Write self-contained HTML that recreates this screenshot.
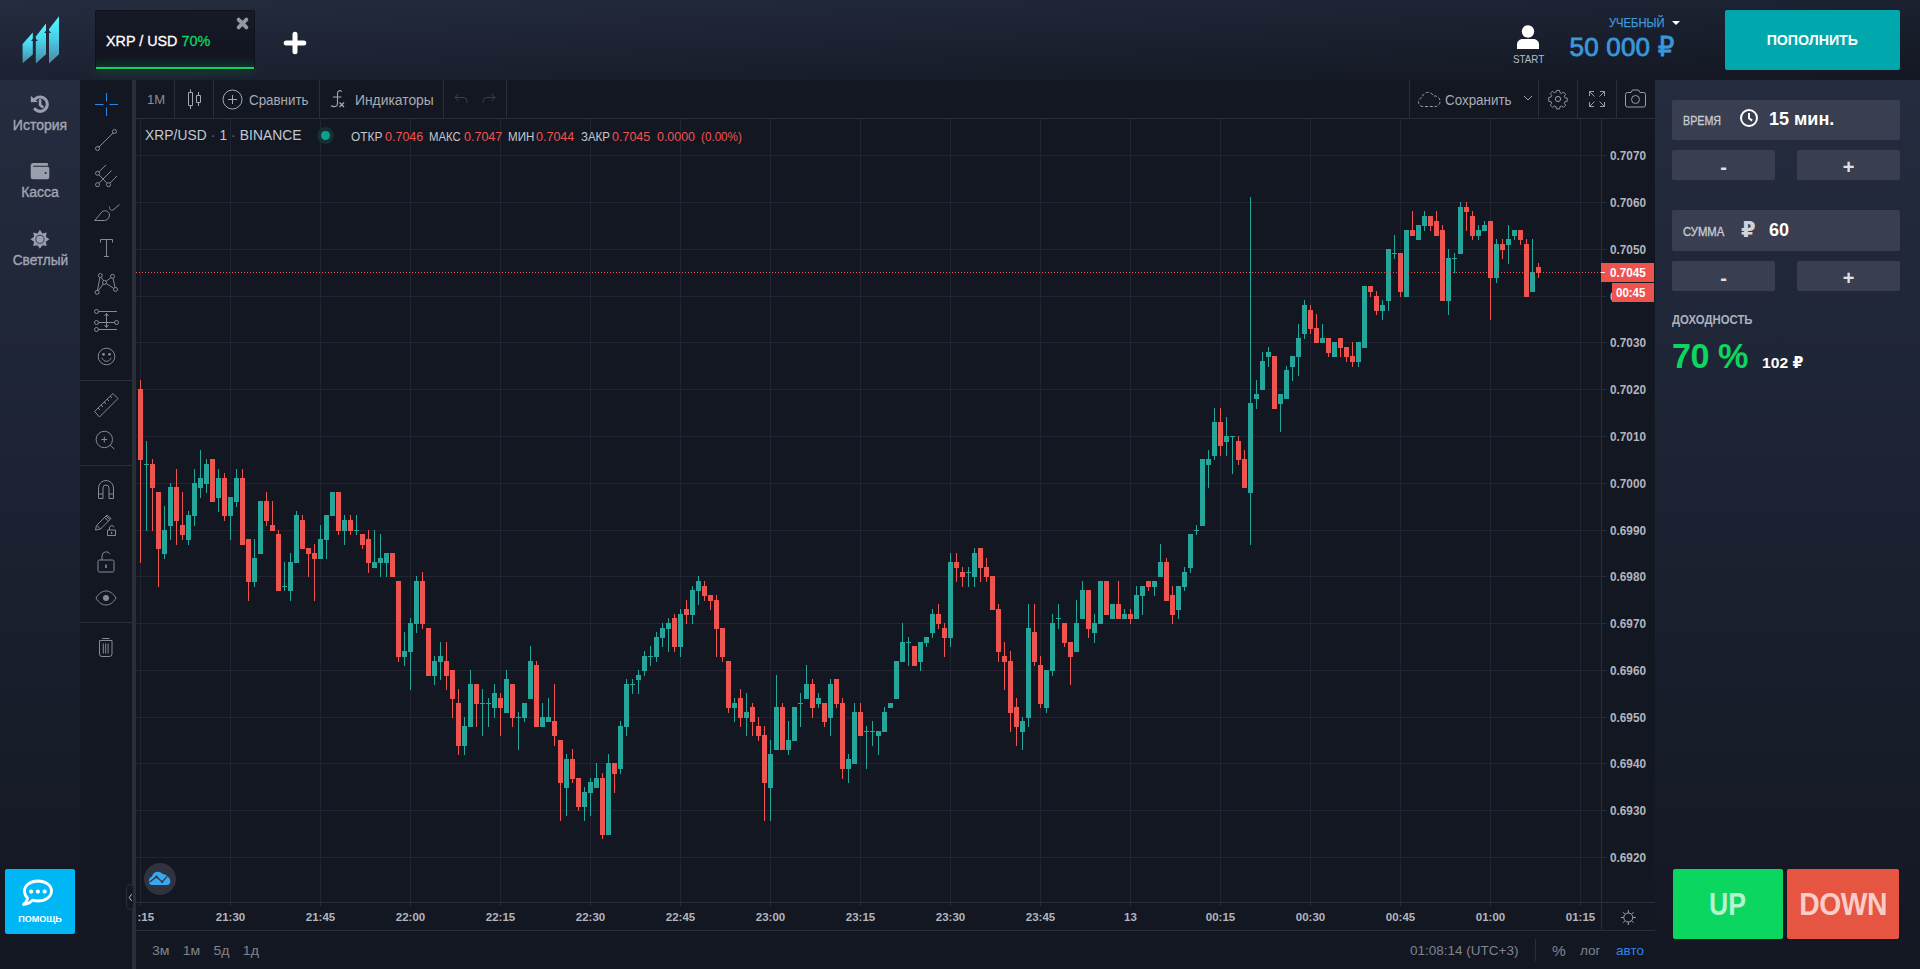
<!DOCTYPE html>
<html lang="ru">
<head>
<meta charset="utf-8">
<title>XRP / USD</title>
<style>
*{box-sizing:border-box;margin:0;padding:0}
html,body{width:1920px;height:969px;overflow:hidden}
body{position:relative;font-family:"Liberation Sans","DejaVu Sans",sans-serif;color:#fff;
 background:linear-gradient(180deg,#222838 0px,#222838 80px,#1b2030 400px,#131722 800px,#131722 969px);}
.abs{position:absolute}
#topbar{left:0;top:0;width:1920px;height:80px;background:linear-gradient(to bottom right,#242c3f,#131722)}
#side{left:0;top:80px;width:80px;height:889px;background:linear-gradient(to bottom,#242c3f,#131722)}
#rpanel{left:1655px;top:80px;width:265px;height:889px;background:linear-gradient(to bottom,#242c3f,#131722)}
#tv{left:80px;top:80px;width:1575px;height:889px;background:#131722}
.sb{position:absolute;left:0;width:80px;text-align:center;color:#a3a6b3;font-size:14px;-webkit-text-stroke:.35px}
.tvt{color:#a9acb6;font-size:14px}
.grey{color:#9a9ea9}
.vsep{position:absolute;top:0;width:1px;height:38px;background:#2a2e39}
.hsep{position:absolute;height:1px;background:#2a2e39}
.field{position:absolute;left:17px;width:228px;height:40px;background:#393f51;border-radius:2px}
.pm{position:absolute;width:103px;height:30px;background:#393f51;border-radius:2px;text-align:center;color:#dfe1e6;font-weight:bold;font-size:20px;line-height:34px}
.pl{position:absolute;font-size:12px;color:#b2b5be;font-weight:bold;white-space:nowrap}
.tl{position:absolute;font-size:11.5px;color:#b2b5be;font-weight:bold;white-space:nowrap;top:831px;width:60px;text-align:center}
svg{position:absolute;overflow:visible}
.ic{fill:none;stroke:#868a95;stroke-width:1}
</style>
</head>
<body>
<div id="topbar" class="abs">
 <!-- logo -->
 <svg style="left:22px;top:16px" width="38" height="48" viewBox="0 0 38 48">
  <defs><linearGradient id="lg" x1="0" y1="0" x2="0" y2="1"><stop offset="0" stop-color="#4ffaff"/><stop offset=".45" stop-color="#48d0ea"/><stop offset="1" stop-color="#4c88a2"/></linearGradient></defs>
  <polygon points="10.800,16.500 .6,28 .6,47.200 10.800,38.600" fill="url(#lg)"/>
  <polygon points="24,7.500 13.800,20.400 13.800,47.500 24,38.300" fill="url(#lg)"/>
  <polygon points="37,.3 27,13.100 27,47.500 37,38.300" fill="url(#lg)"/>
  <polygon points="12.300,21 15.800,25 9,25" fill="#222839"/>
  <polygon points="25.500,12.800 29,17 22.200,17" fill="#222839"/>
 </svg>
 <!-- tab -->
 <div class="abs" style="left:95px;top:10px;width:160px;height:60px;background:linear-gradient(180deg,#161a27,#11141e);border:1px solid #10131c;border-bottom:none;border-radius:2px"></div>
 <div class="abs" style="left:96px;top:67px;width:158px;height:2px;background:#0bd660;box-shadow:0 3px 9px rgba(11,214,96,.4)"></div>
 <div class="abs" style="left:96px;top:56px;width:158px;height:11px;background:linear-gradient(180deg,rgba(11,214,96,0),rgba(11,214,96,.13))"></div>
 <div id="t_tab" class="abs" style="-webkit-text-stroke:.3px;transform:scaleX(0.9564);transform-origin:0 0;left:106px;top:32px;font-size:15px;line-height:18px;white-space:nowrap;color:#fff">XRP / USD <span style="color:#0bd660">70%</span></div>
 <svg style="left:236px;top:17px" width="13" height="13" viewBox="0 0 13 13"><path d="M2.6 2.6L10.4 10.4M10.4 2.6L2.6 10.4" stroke="#94979f" stroke-width="3.800" stroke-linecap="round"/></svg>
 <svg style="left:284px;top:32px" width="22" height="22" viewBox="0 0 22 22"><path d="M11 2.2V19.8M2.2 11H19.8" stroke="#fff" stroke-width="5" stroke-linecap="round"/></svg>
 <!-- user -->
 <svg style="left:1516px;top:24px" width="24" height="26" viewBox="0 0 24 26"><circle cx="12" cy="7.5" r="6.2" fill="#fff"/><path d="M1 25v-4.5c0-3.6 3-5.5 6-5.5h10c3 0 6 1.900 6 5.500V25z" fill="#fff"/></svg>
 <div id="t_start" class="abs" style="transform:scaleX(0.8874);transform-origin:0 0;left:1512.500px;top:53px;font-size:11px;line-height:13px;color:#b7bac3">START</div>
 <div id="t_uch" class="abs" style="-webkit-text-stroke:.25px;transform:scaleX(0.8967);transform-origin:0 0;left:1608.700px;top:16px;font-size:12.500px;line-height:14px;color:#3f97dc;white-space:nowrap">УЧЕБНЫЙ</div>
 <svg style="left:1671px;top:20px" width="10" height="6" viewBox="0 0 10 6"><path d="M1 1h8L5 5z" fill="#fff"/></svg>
 <div id="t_bal" class="abs" style="-webkit-text-stroke:.8px;left:1569.500px;top:32px;font-size:26px;line-height:30px;color:#3a97db;white-space:nowrap;letter-spacing:.2px">50 000 ₽</div>
 <div class="abs" style="left:1725px;top:10px;width:175px;height:60px;background:#00a8ad;border-radius:2px;text-align:center;font-size:15px;font-weight:bold;line-height:59px;color:#fff"><span id="t_pop" style="display:inline-block;transform:scaleX(0.9450);transform-origin:50% 50%;">ПОПОЛНИТЬ</span></div>
</div>
<div id="side" class="abs">
 <svg style="left:30px;top:14px" width="20" height="20" viewBox="0 0 20 20"><path d="M5.300 4.800A7.200 7.200 0 1 1 5 15.200" fill="none" stroke="#9b9eac" stroke-width="3.100" stroke-linecap="round"/><path d="M.8 1.800V8.300L7.900 8z" fill="#9b9eac"/><path d="M10.100 6.400V11l2.400 1.900" fill="none" stroke="#9b9eac" stroke-width="2.700" stroke-linecap="round" stroke-linejoin="round"/></svg>
 <div class="sb" style="top:37px;line-height:16px"><span id="t_hist">История</span></div>
 <svg style="left:30px;top:82px" width="20" height="18" viewBox="0 0 20 18"><path d="M3.200 1H16.800A1.300 1.300 0 0 1 18.100 2.300V3.800H3.600A.5.500 0 0 0 3.600 4.800H17.300A2 2 0 0 1 19.300 6.800V15.300A2 2 0 0 1 17.300 17.300H3.200A2.500 2.500 0 0 1 .7 14.800V3.500A2.500 2.500 0 0 1 3.200 1z" fill="#9b9eac"/><circle cx="15.600" cy="11" r="1" fill="#222839"/></svg>
 <div class="sb" style="top:103.500px;line-height:16px"><span id="t_kassa">Касса</span></div>
 <svg style="left:30px;top:149px" width="20" height="20" viewBox="0 0 20 20"><polygon points="9.95,0.80 12.40,4.39 16.67,3.58 15.86,7.85 19.45,10.30 15.86,12.75 16.67,17.02 12.40,16.21 9.95,19.80 7.50,16.21 3.23,17.02 4.04,12.75 0.45,10.30 4.04,7.85 3.23,3.58 7.50,4.39" fill="#9b9eac"/><circle cx="9.95" cy="10.3" r="4.100" fill="none" stroke="#222839" stroke-width=".8"/></svg>
 <div class="sb" style="top:171.500px;line-height:16px"><span id="t_svet" style="display:inline-block;transform:scaleX(0.9758);transform-origin:50% 50%;">Светлый</span></div>
 <div class="abs" style="left:5px;top:789px;width:70px;height:65px;background:#00b7f5;border-radius:2px"></div>
 <svg style="left:20px;top:797px" width="36" height="32" viewBox="0 0 36 32"><path d="M18 4C25.500 4 31.500 8.500 31.500 14S25.500 24 18 24c-2 0-3.800-.3-5.500-.8-2 2.300-5 4.100-9 4.300 2.300-1.700 3.700-4 4.100-6.500C5.500 19.200 4.500 16.700 4.500 14 4.500 8.500 10.500 4 18 4z" fill="none" stroke="#fff" stroke-width="2.800" stroke-linejoin="round"/><circle cx="11.200" cy="14.600" r="2.100" fill="#fff"/><circle cx="17.900" cy="14.600" r="2.100" fill="#fff"/><circle cx="24.600" cy="14.600" r="2.100" fill="#fff"/></svg>
 <div class="abs" style="left:5px;top:833px;width:70px;text-align:center;font-size:9.500px;font-weight:bold;color:#fff;line-height:12px"><span id="t_help" style="display:inline-block;transform:scaleX(0.9472);transform-origin:50% 50%;">ПОМОЩЬ</span></div>
</div>
<div id="rpanel" class="abs">
 <div class="field" style="top:20px"></div>
 <div class="abs" style="left:28px;top:34px;font-size:12px;line-height:14px;color:#c9ccd3;-webkit-text-stroke:.3px;transform:scaleX(0.8902);transform-origin:0 0;" id="t_vremya">ВРЕМЯ</div>
 <svg style="left:84px;top:28px" width="20" height="20" viewBox="0 0 20 20"><circle cx="10" cy="10" r="8" fill="none" stroke="#fff" stroke-width="2"/><path d="M10 5v5.300l3.200 2.300" fill="none" stroke="#fff" stroke-width="2"/></svg>
 <div class="abs" style="left:114px;top:29px;font-size:18px;font-weight:bold;line-height:21px;color:#fff;white-space:nowrap" id="t_15">15 мин.</div>
 <div class="pm" style="left:17px;top:70px">-</div>
 <div class="pm" style="left:142px;top:70px">+</div>
 <div class="field" style="top:130px;height:41px"></div>
 <div class="abs" style="left:28px;top:145px;font-size:12px;line-height:14px;color:#c9ccd3;-webkit-text-stroke:.3px;transform:scaleX(0.9410);transform-origin:0 0;" id="t_summa">СУММА</div>
 <div class="abs" style="left:86px;top:139px;font-size:21px;font-weight:bold;line-height:22px;color:#d0d3db">₽</div>
 <div class="abs" style="left:114px;top:140px;font-size:18px;font-weight:bold;line-height:21px;color:#fff" id="t_60">60</div>
 <div class="pm" style="left:17px;top:181px">-</div>
 <div class="pm" style="left:142px;top:181px">+</div>
 <div class="abs" style="left:17px;top:233px;font-size:12.500px;font-weight:bold;line-height:14px;color:#aeb2bd;white-space:nowrap;transform:scaleX(0.9074);transform-origin:0 0;" id="t_doh">ДОХОДНОСТЬ</div>
 <div class="abs" style="left:17px;top:256px;font-size:35px;font-weight:bold;line-height:40px;color:#0bd660;white-space:nowrap;letter-spacing:-.5px;transform:scaleX(0.9758);transform-origin:0 0;" id="t_70">70 %</div>
 <div class="abs" style="left:106.700px;top:275px;font-size:15px;font-weight:bold;line-height:16px;color:#fff;white-space:nowrap;transform:scaleX(1.0419);transform-origin:0 0;" id="t_102">102 ₽</div>
 <div class="abs" style="left:18px;top:789px;width:110px;height:70px;background:#0bd660;border-radius:2px;text-align:center;font-size:31px;line-height:72px;color:#b5f2cf;font-weight:bold"><span id="t_up" style="display:inline-block;transform:scaleX(0.8589);transform-origin:50% 50%;">UP</span></div>
 <div class="abs" style="left:132px;top:789px;width:112px;height:70px;background:#e55541;border-radius:2px;text-align:center;font-size:31px;line-height:72px;color:#f9cdc7;font-weight:bold;letter-spacing:-.5px"><span id="t_down" style="display:inline-block;transform:scaleX(0.9131);transform-origin:50% 50%;">DOWN</span></div>
</div>
<div id="tv" class="abs">
 <!-- left drawing toolbar separator -->
 <div class="abs" style="left:52px;top:0;width:4px;height:889px;background:#2a2e39"></div>
 <!-- top toolbar -->
 <div class="hsep" style="left:56px;top:38px;width:1519px"></div>
 <div class="vsep" style="left:94px"></div>
 <div class="vsep" style="left:133px"></div>
 <div class="vsep" style="left:239px"></div>
 <div class="vsep" style="left:363px"></div>
 <div class="vsep" style="left:426px"></div>
 <div class="vsep" style="left:1329px"></div>
 <div class="vsep" style="left:1458px"></div>
 <div class="vsep" style="left:1497px"></div>
 <div class="vsep" style="left:1536px"></div>
 <div class="abs tvt" style="color:#8a8d98;left:66.5px;top:11.5px;line-height:16px;font-size:13.500px;transform:scaleX(0.9699);transform-origin:0 0;" id="t_1m">1М</div>
 <svg style="left:106px;top:9px" width="18" height="22" viewBox="0 0 18 22" class="ic"><path d="M4.500 .5v3M4.500 16.500v3.500M2.500 3.500h4v13h-4zM12.500 3v3.500M12.500 13.500v3.500M10.500 6.500h4v7h-4z" stroke="#a5a8b2"/></svg>
 <svg style="left:142px;top:9px" width="21" height="21" viewBox="0 0 21 21" class="ic"><circle cx="10.500" cy="10.500" r="9.500" stroke="#a5a8b2"/><path d="M10.500 6v9M6 10.500h9" stroke="#a5a8b2"/></svg>
 <div class="abs tvt" style="left:169px;top:11.5px;line-height:16px;white-space:nowrap;transform:scaleX(0.9537);transform-origin:0 0;" id="t_srav">Сравнить</div>
 <svg style="left:250px;top:9px" width="18" height="20" viewBox="0 0 18 20" class="ic"><path d="M11.5 2.7C10.5 1.2 7.5 1 7.5 4.5V14.5C7.5 18 4 18.300 1 16.800M3 8h8.500" stroke="#a5a8b2" stroke-width="1.100"/><path d="M9.500 13.500l4.500 4.500M14 13.500l-4.500 4.500" stroke="#a5a8b2" stroke-width="1.300"/></svg>
 <div class="abs tvt" style="left:274.5px;top:11.5px;line-height:16px;white-space:nowrap;transform:scaleX(0.9900);transform-origin:0 0;" id="t_ind">Индикаторы</div>
 <svg style="left:374px;top:13px" width="14" height="11" viewBox="0 0 14 11" class="ic"><path d="M4.500 1L1 4.500 4.500 8M1 4.500h8a4 4 0 0 1 4 4V10" stroke="#3b3f4b"/></svg>
 <svg style="left:402px;top:13px" width="14" height="11" viewBox="0 0 14 11" class="ic"><path d="M9.500 1L13 4.500 9.500 8M13 4.500H5a4 4 0 0 0-4 4V10" stroke="#3b3f4b"/></svg>
 <svg style="left:1337px;top:10px" width="25" height="18" viewBox="0 0 25 18" class="ic"><path d="M6 16.500a4.500 4.500 0 0 1-1-8.900 6 6 0 0 1 11.500-1.500 5.200 5.200 0 0 1 2.500 10.400z" stroke="#9a9ea9" stroke-dasharray="3 1.800"/></svg>
 <div class="abs tvt" style="left:1365.2px;top:11.5px;line-height:16px;white-space:nowrap;transform:scaleX(0.9558);transform-origin:0 0;" id="t_save">Сохранить</div>
 <svg style="left:1443px;top:14.500px" width="10" height="6" viewBox="0 0 10 6" class="ic"><path d="M1 1l4 4 4-4" stroke="#9a9ea9"/></svg>
 <svg style="left:1467px;top:8px" width="22" height="22" viewBox="0 0 22 22" class="ic"><circle cx="11" cy="11" r="2.600" stroke="#9a9ea9"/><path d="M9.300 1.500h3.400l.5 2.600 1.700.7 2.200-1.500 2.400 2.400-1.500 2.200.7 1.700 2.600.5v3.400l-2.600.5-.7 1.700 1.500 2.200-2.400 2.400-2.200-1.500-1.700.7-.5 2.600H9.300l-.5-2.600-1.700-.7-2.200 1.500-2.400-2.400 1.500-2.200-.7-1.700-2.600-.5V9.300l2.600-.5.7-1.700-1.500-2.200 2.400-2.400 2.200 1.500 1.700-.7z" stroke="#9a9ea9" stroke-linejoin="round" transform="translate(1.100 1.100) scale(.9)"/></svg>
 <svg style="left:1508px;top:10px" width="18" height="18" viewBox="0 0 18 18" class="ic"><path d="M1.500 6V1.500H6M1.500 1.500l5 5M12 1.500h4.500V6M16.500 1.500l-5 5M1.500 12v4.500H6M1.500 16.500l5-5M12 16.500h4.500V12M16.500 16.500l-5-5" stroke="#9a9ea9"/></svg>
 <svg style="left:1544px;top:9px" width="23" height="19" viewBox="0 0 23 19" class="ic"><path d="M3.500 3.500H7l1.500-2.500h6L16 3.500h3.500a2 2 0 0 1 2 2V16a2 2 0 0 1-2 2h-16a2 2 0 0 1-2-2V5.500a2 2 0 0 1 2-2z" stroke="#9a9ea9"/><circle cx="11.500" cy="10.500" r="4" stroke="#9a9ea9"/></svg>
 <!-- left drawing toolbar icons (tv coords: abs-80) -->
 <svg style="left:15px;top:13px" width="23" height="23" viewBox="0 0 23 23" class="ic"><path d="M11.500 0v8.500M11.500 14.500V23M0 11.500h8.500M14.500 11.500H23" stroke="#2e86e6"/></svg>
 <svg style="left:14px;top:47px" width="24" height="24" viewBox="0 0 24 24" class="ic"><circle cx="3.500" cy="21.500" r="2"/><circle cx="20.500" cy="4.500" r="2"/><path d="M5 20L19 6"/></svg>
 <svg style="left:14px;top:84px" width="24" height="24" viewBox="0 0 24 24" class="ic"><circle cx="3.500" cy="9.300" r="2"/><circle cx="3.500" cy="20.700" r="2"/><circle cx="14.500" cy="20.700" r="2"/><path d="M5 7.800L12 1M5 19.200L17.500 6.500M16 19.200L23 12M5 10.800L13 19.200"/></svg>
 <svg style="left:14px;top:122px" width="26" height="20" viewBox="0 0 26 20" class="ic"><path d="M.8 18.500L8 9.800C11 7.300 15.500 9.500 15.500 13c0 3-2.500 5.500-5 5.500zM15.500 4.500c-.5 2.500 1.500 4.500 3.500 3.500l6.500-5.500"/></svg>
 <svg style="left:17px;top:159px" width="18" height="19" viewBox="0 0 18 19" class="ic"><path d="M3.500 3.500V.5h12v3M9.500 .5v17M7 17.500h5"/></svg>
 <svg style="left:14px;top:193px" width="25" height="23" viewBox="0 0 25 23" class="ic"><circle cx="6.300" cy="2.500" r="2"/><circle cx="18.500" cy="3.300" r="2"/><circle cx="3.100" cy="19.300" r="2"/><circle cx="21.500" cy="16.400" r="2"/><circle cx="10.500" cy="9.500" r="2"/><path d="M5.900 4.500L3.500 17.300M7.300 4.300l2.200 3.500M16.900 4.500L12.100 8.300M19 5.300l2 9.100M4.300 17.700L9.300 11.100M12.300 10.500l7.400 4.900"/></svg>
 <svg style="left:14px;top:229px" width="26" height="24" viewBox="0 0 26 24" class="ic"><circle cx="2.500" cy="2.500" r="2"/><circle cx="2.500" cy="13.500" r="2"/><circle cx="22.500" cy="13.500" r="2"/><circle cx="2.500" cy="20.500" r="2"/><path d="M4.500 2.500h18.500M4.500 13.500h16M4.500 20.500h18.500M12.500 4.500v14M10.500 7l2-2.500 2 2.500M10.500 16l2 2.500 2-2.500"/></svg>
 <svg style="left:17px;top:266.500px" width="19" height="19" viewBox="0 0 19 19" class="ic"><circle cx="9.500" cy="9.500" r="8.300"/><circle cx="6.500" cy="7.300" r="1.400" fill="#868a95" stroke="none"/><circle cx="12.500" cy="7.300" r="1.400" fill="#868a95" stroke="none"/><path d="M5 10.800c1 2.500 2.500 3.500 4.500 3.500s3.500-1 4.500-3.500"/></svg>
 <div class="hsep" style="left:0;top:300px;width:52px"></div>
 <svg style="left:13px;top:312px" width="26" height="26" viewBox="0 0 26 26" class="ic"><path d="M1.500 19.500L20 1.500l5 5L6.500 25zM5 16l2 2M8 13l2 2M11 10l2 2M14 7l2 2M17 4l2 2"/></svg>
 <svg style="left:15px;top:350px" width="22" height="22" viewBox="0 0 22 22" class="ic"><circle cx="9.300" cy="9.500" r="8.200"/><path d="M9.300 6.500v6M6.300 9.500h6M15.300 15.300l4.200 4"/></svg>
 <div class="hsep" style="left:0;top:385px;width:52px"></div>
 <svg style="left:17px;top:400px" width="18" height="19" viewBox="0 0 18 19" class="ic"><path d="M1.500 18.500V8a7.500 7.500 0 0 1 15 0v10.500H12V8a3 3 0 0 0-6 0v10.500zM1.500 14H6M12 14h4.500"/></svg>
 <svg style="left:14px;top:434px" width="24" height="24" viewBox="0 0 24 24" class="ic"><path d="M1.500 16l1-4.500L13 1l4 3.500L6.500 15zM3 11.500l3.500 3.500M10.500 3.500l4 3.500M12 2l4 3.500"/><path d="M13.500 16h8v5.500h-8zM15.500 16v-2a2.300 2.300 0 0 1 4.500-.7"/><rect x="17" y="18" width="1.200" height="2" fill="#868a95" stroke="none"/></svg>
 <svg style="left:17px;top:471px" width="18" height="23" viewBox="0 0 18 23" class="ic"><path d="M2.500 9h13a1.500 1.500 0 0 1 1.500 1.500v9a1.500 1.500 0 0 1-1.500 1.500h-13A1.500 1.500 0 0 1 1 19.500v-9A1.500 1.500 0 0 1 2.500 9zM5 9V5a4.200 4.200 0 0 1 8-1.800"/><rect x="8.200" y="13.500" width="1.600" height="3.500" fill="#868a95" stroke="none"/></svg>
 <svg style="left:15px;top:510px" width="22" height="16" viewBox="0 0 22 16" class="ic"><path d="M1 8C4 3 7.500 1 11 1s7 2 10 7c-3 5-6.500 7-10 7S4 13 1 8z"/><circle cx="11" cy="8" r="3" fill="#868a95" stroke="none"/></svg>
 <div class="hsep" style="left:0;top:542px;width:52px"></div>
 <svg style="left:18px;top:557px" width="16" height="21" viewBox="0 0 16 21" class="ic"><path d="M1.500 3.500h12.500v13.500a2.500 2.500 0 0 1-2.500 2.500H4a2.500 2.500 0 0 1-2.500-2.500zM4 1.500h7.500M5.300 6.500v10M7.700 6.500v10M10.100 6.500v10"/></svg>
<svg style="left:56px;top:39px" width="1465" height="783" viewBox="136 119 1465 783" shape-rendering="crispEdges">
<clipPath id="cp"><rect x="136" y="119" width="1465" height="783"/></clipPath><g clip-path="url(#cp)">
<path d="M140.5 119V902M230.5 119V902M320.5 119V902M410.5 119V902M500.5 119V902M590.5 119V902M680.5 119V902M770.5 119V902M860.5 119V902M950.5 119V902M1040.5 119V902M1130.5 119V902M1220.5 119V902M1310.5 119V902M1400.5 119V902M1490.5 119V902M1580.5 119V902M136 155.5H1601M136 202.5H1601M136 249.5H1601M136 296.5H1601M136 342.5H1601M136 389.5H1601M136 436.5H1601M136 483.5H1601M136 530.5H1601M136 576.5H1601M136 623.5H1601M136 670.5H1601M136 717.5H1601M136 763.5H1601M136 810.5H1601M136 857.5H1601" stroke="#222531" stroke-width="1" fill="none"/>
<rect x="140" y="380" width="1" height="183" fill="#ef5350"/>
<rect x="138" y="389" width="5" height="71" fill="#ef5350"/>
<rect x="146" y="441" width="1" height="90" fill="#26a69a"/>
<rect x="144" y="464" width="5" height="1" fill="#26a69a"/>
<rect x="152" y="459" width="1" height="72" fill="#ef5350"/>
<rect x="150" y="464" width="5" height="24" fill="#ef5350"/>
<rect x="158" y="492" width="1" height="95" fill="#ef5350"/>
<rect x="156" y="492" width="5" height="57" fill="#ef5350"/>
<rect x="164" y="506" width="1" height="53" fill="#26a69a"/>
<rect x="162" y="530" width="5" height="24" fill="#26a69a"/>
<rect x="170" y="483" width="1" height="57" fill="#26a69a"/>
<rect x="168" y="487" width="5" height="39" fill="#26a69a"/>
<rect x="176" y="469" width="1" height="76" fill="#ef5350"/>
<rect x="174" y="487" width="5" height="34" fill="#ef5350"/>
<rect x="182" y="492" width="1" height="48" fill="#ef5350"/>
<rect x="180" y="525" width="5" height="10" fill="#ef5350"/>
<rect x="188" y="511" width="1" height="34" fill="#26a69a"/>
<rect x="186" y="515" width="5" height="25" fill="#26a69a"/>
<rect x="194" y="469" width="1" height="57" fill="#26a69a"/>
<rect x="192" y="483" width="5" height="33" fill="#26a69a"/>
<rect x="200" y="450" width="1" height="48" fill="#26a69a"/>
<rect x="198" y="478" width="5" height="10" fill="#26a69a"/>
<rect x="206" y="459" width="1" height="34" fill="#26a69a"/>
<rect x="204" y="464" width="5" height="20" fill="#26a69a"/>
<rect x="212" y="459" width="1" height="43" fill="#ef5350"/>
<rect x="210" y="459" width="5" height="43" fill="#ef5350"/>
<rect x="218" y="469" width="1" height="43" fill="#26a69a"/>
<rect x="216" y="478" width="5" height="20" fill="#26a69a"/>
<rect x="224" y="473" width="1" height="48" fill="#ef5350"/>
<rect x="222" y="478" width="5" height="38" fill="#ef5350"/>
<rect x="230" y="497" width="1" height="43" fill="#26a69a"/>
<rect x="228" y="497" width="5" height="19" fill="#26a69a"/>
<rect x="236" y="469" width="1" height="38" fill="#26a69a"/>
<rect x="234" y="478" width="5" height="24" fill="#26a69a"/>
<rect x="242" y="469" width="1" height="76" fill="#ef5350"/>
<rect x="240" y="478" width="5" height="67" fill="#ef5350"/>
<rect x="248" y="539" width="1" height="62" fill="#ef5350"/>
<rect x="246" y="539" width="5" height="43" fill="#ef5350"/>
<rect x="254" y="539" width="1" height="48" fill="#26a69a"/>
<rect x="252" y="558" width="5" height="24" fill="#26a69a"/>
<rect x="260" y="501" width="1" height="53" fill="#26a69a"/>
<rect x="258" y="501" width="5" height="53" fill="#26a69a"/>
<rect x="266" y="492" width="1" height="34" fill="#ef5350"/>
<rect x="264" y="501" width="5" height="20" fill="#ef5350"/>
<rect x="272" y="501" width="1" height="30" fill="#ef5350"/>
<rect x="270" y="525" width="5" height="6" fill="#ef5350"/>
<rect x="278" y="530" width="1" height="61" fill="#ef5350"/>
<rect x="276" y="534" width="5" height="57" fill="#ef5350"/>
<rect x="284" y="562" width="1" height="29" fill="#26a69a"/>
<rect x="282" y="586" width="5" height="1" fill="#26a69a"/>
<rect x="290" y="553" width="1" height="48" fill="#26a69a"/>
<rect x="288" y="562" width="5" height="29" fill="#26a69a"/>
<rect x="296" y="511" width="1" height="52" fill="#26a69a"/>
<rect x="294" y="515" width="5" height="48" fill="#26a69a"/>
<rect x="302" y="515" width="1" height="34" fill="#ef5350"/>
<rect x="300" y="520" width="5" height="29" fill="#ef5350"/>
<rect x="308" y="548" width="1" height="29" fill="#ef5350"/>
<rect x="306" y="548" width="5" height="6" fill="#ef5350"/>
<rect x="314" y="544" width="1" height="57" fill="#ef5350"/>
<rect x="312" y="553" width="5" height="6" fill="#ef5350"/>
<rect x="320" y="525" width="1" height="34" fill="#26a69a"/>
<rect x="318" y="539" width="5" height="20" fill="#26a69a"/>
<rect x="326" y="515" width="1" height="44" fill="#26a69a"/>
<rect x="324" y="515" width="5" height="25" fill="#26a69a"/>
<rect x="332" y="492" width="1" height="24" fill="#26a69a"/>
<rect x="330" y="492" width="5" height="24" fill="#26a69a"/>
<rect x="338" y="492" width="1" height="43" fill="#ef5350"/>
<rect x="336" y="492" width="5" height="39" fill="#ef5350"/>
<rect x="344" y="515" width="1" height="30" fill="#26a69a"/>
<rect x="342" y="520" width="5" height="11" fill="#26a69a"/>
<rect x="350" y="515" width="1" height="20" fill="#ef5350"/>
<rect x="348" y="520" width="5" height="11" fill="#ef5350"/>
<rect x="356" y="515" width="1" height="20" fill="#26a69a"/>
<rect x="354" y="530" width="5" height="1" fill="#26a69a"/>
<rect x="362" y="534" width="1" height="15" fill="#ef5350"/>
<rect x="360" y="534" width="5" height="11" fill="#ef5350"/>
<rect x="368" y="530" width="1" height="43" fill="#ef5350"/>
<rect x="366" y="539" width="5" height="24" fill="#ef5350"/>
<rect x="374" y="530" width="1" height="38" fill="#26a69a"/>
<rect x="372" y="562" width="5" height="6" fill="#26a69a"/>
<rect x="380" y="534" width="1" height="43" fill="#26a69a"/>
<rect x="378" y="558" width="5" height="5" fill="#26a69a"/>
<rect x="386" y="553" width="1" height="24" fill="#26a69a"/>
<rect x="384" y="553" width="5" height="10" fill="#26a69a"/>
<rect x="392" y="553" width="1" height="24" fill="#ef5350"/>
<rect x="390" y="553" width="5" height="24" fill="#ef5350"/>
<rect x="398" y="581" width="1" height="81" fill="#ef5350"/>
<rect x="396" y="581" width="5" height="76" fill="#ef5350"/>
<rect x="404" y="632" width="1" height="34" fill="#26a69a"/>
<rect x="402" y="651" width="5" height="6" fill="#26a69a"/>
<rect x="410" y="618" width="1" height="72" fill="#26a69a"/>
<rect x="408" y="623" width="5" height="29" fill="#26a69a"/>
<rect x="416" y="576" width="1" height="57" fill="#26a69a"/>
<rect x="414" y="581" width="5" height="43" fill="#26a69a"/>
<rect x="422" y="572" width="1" height="57" fill="#ef5350"/>
<rect x="420" y="581" width="5" height="43" fill="#ef5350"/>
<rect x="428" y="628" width="1" height="48" fill="#ef5350"/>
<rect x="426" y="628" width="5" height="48" fill="#ef5350"/>
<rect x="434" y="656" width="1" height="29" fill="#26a69a"/>
<rect x="432" y="661" width="5" height="15" fill="#26a69a"/>
<rect x="440" y="642" width="1" height="38" fill="#26a69a"/>
<rect x="438" y="656" width="5" height="6" fill="#26a69a"/>
<rect x="446" y="642" width="1" height="48" fill="#ef5350"/>
<rect x="444" y="661" width="5" height="15" fill="#ef5350"/>
<rect x="452" y="670" width="1" height="48" fill="#ef5350"/>
<rect x="450" y="670" width="5" height="29" fill="#ef5350"/>
<rect x="458" y="689" width="1" height="66" fill="#ef5350"/>
<rect x="456" y="703" width="5" height="43" fill="#ef5350"/>
<rect x="464" y="717" width="1" height="38" fill="#26a69a"/>
<rect x="462" y="726" width="5" height="20" fill="#26a69a"/>
<rect x="470" y="670" width="1" height="57" fill="#26a69a"/>
<rect x="468" y="684" width="5" height="43" fill="#26a69a"/>
<rect x="476" y="684" width="1" height="43" fill="#ef5350"/>
<rect x="474" y="684" width="5" height="20" fill="#ef5350"/>
<rect x="482" y="689" width="1" height="47" fill="#26a69a"/>
<rect x="480" y="703" width="5" height="1" fill="#26a69a"/>
<rect x="488" y="698" width="1" height="29" fill="#26a69a"/>
<rect x="486" y="703" width="5" height="1" fill="#26a69a"/>
<rect x="494" y="684" width="1" height="34" fill="#26a69a"/>
<rect x="492" y="693" width="5" height="15" fill="#26a69a"/>
<rect x="500" y="693" width="1" height="43" fill="#ef5350"/>
<rect x="498" y="698" width="5" height="10" fill="#ef5350"/>
<rect x="506" y="670" width="1" height="43" fill="#26a69a"/>
<rect x="504" y="679" width="5" height="34" fill="#26a69a"/>
<rect x="512" y="684" width="1" height="43" fill="#ef5350"/>
<rect x="510" y="684" width="5" height="34" fill="#ef5350"/>
<rect x="518" y="712" width="1" height="38" fill="#26a69a"/>
<rect x="516" y="717" width="5" height="1" fill="#26a69a"/>
<rect x="524" y="703" width="1" height="19" fill="#26a69a"/>
<rect x="522" y="703" width="5" height="15" fill="#26a69a"/>
<rect x="530" y="646" width="1" height="53" fill="#26a69a"/>
<rect x="528" y="661" width="5" height="38" fill="#26a69a"/>
<rect x="536" y="661" width="1" height="66" fill="#ef5350"/>
<rect x="534" y="665" width="5" height="62" fill="#ef5350"/>
<rect x="542" y="703" width="1" height="24" fill="#26a69a"/>
<rect x="540" y="717" width="5" height="10" fill="#26a69a"/>
<rect x="548" y="698" width="1" height="24" fill="#26a69a"/>
<rect x="546" y="717" width="5" height="5" fill="#26a69a"/>
<rect x="554" y="684" width="1" height="62" fill="#ef5350"/>
<rect x="552" y="721" width="5" height="15" fill="#ef5350"/>
<rect x="560" y="740" width="1" height="81" fill="#ef5350"/>
<rect x="558" y="740" width="5" height="43" fill="#ef5350"/>
<rect x="566" y="754" width="1" height="62" fill="#26a69a"/>
<rect x="564" y="759" width="5" height="29" fill="#26a69a"/>
<rect x="572" y="749" width="1" height="34" fill="#ef5350"/>
<rect x="570" y="759" width="5" height="20" fill="#ef5350"/>
<rect x="578" y="778" width="1" height="33" fill="#ef5350"/>
<rect x="576" y="778" width="5" height="29" fill="#ef5350"/>
<rect x="584" y="787" width="1" height="34" fill="#26a69a"/>
<rect x="582" y="792" width="5" height="15" fill="#26a69a"/>
<rect x="590" y="778" width="1" height="38" fill="#26a69a"/>
<rect x="588" y="782" width="5" height="11" fill="#26a69a"/>
<rect x="596" y="763" width="1" height="25" fill="#26a69a"/>
<rect x="594" y="778" width="5" height="10" fill="#26a69a"/>
<rect x="602" y="773" width="1" height="66" fill="#ef5350"/>
<rect x="600" y="778" width="5" height="57" fill="#ef5350"/>
<rect x="608" y="754" width="1" height="81" fill="#26a69a"/>
<rect x="606" y="763" width="5" height="72" fill="#26a69a"/>
<rect x="614" y="763" width="1" height="30" fill="#ef5350"/>
<rect x="612" y="763" width="5" height="11" fill="#ef5350"/>
<rect x="620" y="721" width="1" height="53" fill="#26a69a"/>
<rect x="618" y="726" width="5" height="43" fill="#26a69a"/>
<rect x="626" y="679" width="1" height="57" fill="#26a69a"/>
<rect x="624" y="684" width="5" height="43" fill="#26a69a"/>
<rect x="632" y="679" width="1" height="15" fill="#26a69a"/>
<rect x="630" y="684" width="5" height="1" fill="#26a69a"/>
<rect x="638" y="670" width="1" height="24" fill="#26a69a"/>
<rect x="636" y="675" width="5" height="5" fill="#26a69a"/>
<rect x="644" y="651" width="1" height="25" fill="#26a69a"/>
<rect x="642" y="656" width="5" height="15" fill="#26a69a"/>
<rect x="650" y="646" width="1" height="20" fill="#26a69a"/>
<rect x="648" y="656" width="5" height="1" fill="#26a69a"/>
<rect x="656" y="632" width="1" height="30" fill="#26a69a"/>
<rect x="654" y="637" width="5" height="20" fill="#26a69a"/>
<rect x="662" y="623" width="1" height="24" fill="#26a69a"/>
<rect x="660" y="628" width="5" height="10" fill="#26a69a"/>
<rect x="668" y="618" width="1" height="34" fill="#26a69a"/>
<rect x="666" y="623" width="5" height="6" fill="#26a69a"/>
<rect x="674" y="614" width="1" height="38" fill="#ef5350"/>
<rect x="672" y="618" width="5" height="29" fill="#ef5350"/>
<rect x="680" y="609" width="1" height="48" fill="#26a69a"/>
<rect x="678" y="614" width="5" height="33" fill="#26a69a"/>
<rect x="686" y="600" width="1" height="24" fill="#ef5350"/>
<rect x="684" y="609" width="5" height="6" fill="#ef5350"/>
<rect x="692" y="586" width="1" height="38" fill="#26a69a"/>
<rect x="690" y="590" width="5" height="25" fill="#26a69a"/>
<rect x="698" y="576" width="1" height="29" fill="#26a69a"/>
<rect x="696" y="581" width="5" height="10" fill="#26a69a"/>
<rect x="704" y="581" width="1" height="20" fill="#ef5350"/>
<rect x="702" y="586" width="5" height="10" fill="#ef5350"/>
<rect x="710" y="595" width="1" height="15" fill="#ef5350"/>
<rect x="708" y="595" width="5" height="6" fill="#ef5350"/>
<rect x="716" y="595" width="1" height="62" fill="#ef5350"/>
<rect x="714" y="600" width="5" height="29" fill="#ef5350"/>
<rect x="722" y="628" width="1" height="34" fill="#ef5350"/>
<rect x="720" y="628" width="5" height="29" fill="#ef5350"/>
<rect x="728" y="661" width="1" height="52" fill="#ef5350"/>
<rect x="726" y="661" width="5" height="47" fill="#ef5350"/>
<rect x="734" y="698" width="1" height="24" fill="#26a69a"/>
<rect x="732" y="703" width="5" height="5" fill="#26a69a"/>
<rect x="740" y="689" width="1" height="38" fill="#ef5350"/>
<rect x="738" y="698" width="5" height="20" fill="#ef5350"/>
<rect x="746" y="693" width="1" height="43" fill="#26a69a"/>
<rect x="744" y="712" width="5" height="6" fill="#26a69a"/>
<rect x="752" y="703" width="1" height="33" fill="#ef5350"/>
<rect x="750" y="707" width="5" height="15" fill="#ef5350"/>
<rect x="758" y="717" width="1" height="24" fill="#ef5350"/>
<rect x="756" y="726" width="5" height="10" fill="#ef5350"/>
<rect x="764" y="726" width="1" height="95" fill="#ef5350"/>
<rect x="762" y="735" width="5" height="48" fill="#ef5350"/>
<rect x="770" y="740" width="1" height="81" fill="#26a69a"/>
<rect x="768" y="754" width="5" height="34" fill="#26a69a"/>
<rect x="776" y="675" width="1" height="75" fill="#26a69a"/>
<rect x="774" y="707" width="5" height="43" fill="#26a69a"/>
<rect x="782" y="703" width="1" height="47" fill="#ef5350"/>
<rect x="780" y="707" width="5" height="43" fill="#ef5350"/>
<rect x="788" y="721" width="1" height="34" fill="#26a69a"/>
<rect x="786" y="740" width="5" height="10" fill="#26a69a"/>
<rect x="794" y="707" width="1" height="34" fill="#26a69a"/>
<rect x="792" y="707" width="5" height="34" fill="#26a69a"/>
<rect x="800" y="693" width="1" height="34" fill="#26a69a"/>
<rect x="798" y="703" width="5" height="1" fill="#26a69a"/>
<rect x="806" y="665" width="1" height="34" fill="#26a69a"/>
<rect x="804" y="684" width="5" height="15" fill="#26a69a"/>
<rect x="812" y="679" width="1" height="39" fill="#ef5350"/>
<rect x="810" y="684" width="5" height="24" fill="#ef5350"/>
<rect x="818" y="693" width="1" height="15" fill="#26a69a"/>
<rect x="816" y="698" width="5" height="6" fill="#26a69a"/>
<rect x="824" y="703" width="1" height="24" fill="#ef5350"/>
<rect x="822" y="703" width="5" height="19" fill="#ef5350"/>
<rect x="830" y="679" width="1" height="57" fill="#26a69a"/>
<rect x="828" y="684" width="5" height="34" fill="#26a69a"/>
<rect x="836" y="679" width="1" height="29" fill="#ef5350"/>
<rect x="834" y="679" width="5" height="25" fill="#ef5350"/>
<rect x="842" y="698" width="1" height="81" fill="#ef5350"/>
<rect x="840" y="703" width="5" height="66" fill="#ef5350"/>
<rect x="848" y="754" width="1" height="29" fill="#26a69a"/>
<rect x="846" y="759" width="5" height="10" fill="#26a69a"/>
<rect x="854" y="703" width="1" height="61" fill="#26a69a"/>
<rect x="852" y="712" width="5" height="52" fill="#26a69a"/>
<rect x="860" y="703" width="1" height="33" fill="#ef5350"/>
<rect x="858" y="712" width="5" height="24" fill="#ef5350"/>
<rect x="866" y="726" width="1" height="43" fill="#26a69a"/>
<rect x="864" y="731" width="5" height="1" fill="#26a69a"/>
<rect x="872" y="721" width="1" height="25" fill="#26a69a"/>
<rect x="870" y="731" width="5" height="1" fill="#26a69a"/>
<rect x="878" y="731" width="1" height="24" fill="#26a69a"/>
<rect x="876" y="731" width="5" height="5" fill="#26a69a"/>
<rect x="884" y="707" width="1" height="25" fill="#26a69a"/>
<rect x="882" y="712" width="5" height="20" fill="#26a69a"/>
<rect x="890" y="703" width="1" height="5" fill="#26a69a"/>
<rect x="888" y="703" width="5" height="5" fill="#26a69a"/>
<rect x="896" y="661" width="1" height="38" fill="#26a69a"/>
<rect x="894" y="661" width="5" height="38" fill="#26a69a"/>
<rect x="902" y="623" width="1" height="39" fill="#26a69a"/>
<rect x="900" y="642" width="5" height="20" fill="#26a69a"/>
<rect x="908" y="637" width="1" height="29" fill="#26a69a"/>
<rect x="906" y="642" width="5" height="1" fill="#26a69a"/>
<rect x="914" y="646" width="1" height="20" fill="#ef5350"/>
<rect x="912" y="646" width="5" height="20" fill="#ef5350"/>
<rect x="920" y="642" width="1" height="29" fill="#26a69a"/>
<rect x="918" y="642" width="5" height="20" fill="#26a69a"/>
<rect x="926" y="637" width="1" height="10" fill="#26a69a"/>
<rect x="924" y="637" width="5" height="6" fill="#26a69a"/>
<rect x="932" y="609" width="1" height="29" fill="#26a69a"/>
<rect x="930" y="614" width="5" height="19" fill="#26a69a"/>
<rect x="938" y="604" width="1" height="25" fill="#ef5350"/>
<rect x="936" y="614" width="5" height="10" fill="#ef5350"/>
<rect x="944" y="623" width="1" height="34" fill="#ef5350"/>
<rect x="942" y="628" width="5" height="10" fill="#ef5350"/>
<rect x="950" y="553" width="1" height="94" fill="#26a69a"/>
<rect x="948" y="562" width="5" height="76" fill="#26a69a"/>
<rect x="956" y="553" width="1" height="29" fill="#ef5350"/>
<rect x="954" y="562" width="5" height="6" fill="#ef5350"/>
<rect x="962" y="567" width="1" height="20" fill="#ef5350"/>
<rect x="960" y="572" width="5" height="5" fill="#ef5350"/>
<rect x="968" y="567" width="1" height="20" fill="#26a69a"/>
<rect x="966" y="572" width="5" height="1" fill="#26a69a"/>
<rect x="974" y="548" width="1" height="39" fill="#26a69a"/>
<rect x="972" y="553" width="5" height="24" fill="#26a69a"/>
<rect x="980" y="548" width="1" height="34" fill="#ef5350"/>
<rect x="978" y="548" width="5" height="20" fill="#ef5350"/>
<rect x="986" y="558" width="1" height="24" fill="#ef5350"/>
<rect x="984" y="567" width="5" height="10" fill="#ef5350"/>
<rect x="992" y="576" width="1" height="34" fill="#ef5350"/>
<rect x="990" y="576" width="5" height="34" fill="#ef5350"/>
<rect x="998" y="604" width="1" height="58" fill="#ef5350"/>
<rect x="996" y="609" width="5" height="43" fill="#ef5350"/>
<rect x="1004" y="642" width="1" height="48" fill="#ef5350"/>
<rect x="1002" y="656" width="5" height="6" fill="#ef5350"/>
<rect x="1010" y="651" width="1" height="81" fill="#ef5350"/>
<rect x="1008" y="661" width="5" height="52" fill="#ef5350"/>
<rect x="1016" y="698" width="1" height="48" fill="#ef5350"/>
<rect x="1014" y="707" width="5" height="20" fill="#ef5350"/>
<rect x="1022" y="717" width="1" height="33" fill="#26a69a"/>
<rect x="1020" y="721" width="5" height="11" fill="#26a69a"/>
<rect x="1028" y="604" width="1" height="123" fill="#26a69a"/>
<rect x="1026" y="628" width="5" height="90" fill="#26a69a"/>
<rect x="1034" y="604" width="1" height="62" fill="#ef5350"/>
<rect x="1032" y="632" width="5" height="30" fill="#ef5350"/>
<rect x="1040" y="656" width="1" height="52" fill="#ef5350"/>
<rect x="1038" y="665" width="5" height="39" fill="#ef5350"/>
<rect x="1046" y="670" width="1" height="43" fill="#26a69a"/>
<rect x="1044" y="670" width="5" height="38" fill="#26a69a"/>
<rect x="1052" y="614" width="1" height="62" fill="#26a69a"/>
<rect x="1050" y="623" width="5" height="48" fill="#26a69a"/>
<rect x="1058" y="604" width="1" height="25" fill="#26a69a"/>
<rect x="1056" y="618" width="5" height="1" fill="#26a69a"/>
<rect x="1064" y="623" width="1" height="24" fill="#ef5350"/>
<rect x="1062" y="623" width="5" height="20" fill="#ef5350"/>
<rect x="1070" y="642" width="1" height="43" fill="#ef5350"/>
<rect x="1068" y="642" width="5" height="15" fill="#ef5350"/>
<rect x="1076" y="600" width="1" height="52" fill="#26a69a"/>
<rect x="1074" y="623" width="5" height="29" fill="#26a69a"/>
<rect x="1082" y="581" width="1" height="38" fill="#26a69a"/>
<rect x="1080" y="590" width="5" height="29" fill="#26a69a"/>
<rect x="1088" y="590" width="1" height="48" fill="#ef5350"/>
<rect x="1086" y="590" width="5" height="39" fill="#ef5350"/>
<rect x="1094" y="614" width="1" height="29" fill="#26a69a"/>
<rect x="1092" y="623" width="5" height="10" fill="#26a69a"/>
<rect x="1100" y="581" width="1" height="43" fill="#26a69a"/>
<rect x="1098" y="581" width="5" height="43" fill="#26a69a"/>
<rect x="1106" y="581" width="1" height="34" fill="#ef5350"/>
<rect x="1104" y="581" width="5" height="34" fill="#ef5350"/>
<rect x="1112" y="604" width="1" height="15" fill="#26a69a"/>
<rect x="1110" y="604" width="5" height="15" fill="#26a69a"/>
<rect x="1118" y="581" width="1" height="38" fill="#ef5350"/>
<rect x="1116" y="604" width="5" height="15" fill="#ef5350"/>
<rect x="1124" y="609" width="1" height="10" fill="#26a69a"/>
<rect x="1122" y="614" width="5" height="5" fill="#26a69a"/>
<rect x="1130" y="609" width="1" height="15" fill="#ef5350"/>
<rect x="1128" y="614" width="5" height="5" fill="#ef5350"/>
<rect x="1136" y="586" width="1" height="33" fill="#26a69a"/>
<rect x="1134" y="595" width="5" height="24" fill="#26a69a"/>
<rect x="1142" y="586" width="1" height="29" fill="#26a69a"/>
<rect x="1140" y="586" width="5" height="10" fill="#26a69a"/>
<rect x="1148" y="581" width="1" height="10" fill="#ef5350"/>
<rect x="1146" y="581" width="5" height="6" fill="#ef5350"/>
<rect x="1154" y="581" width="1" height="15" fill="#26a69a"/>
<rect x="1152" y="581" width="5" height="6" fill="#26a69a"/>
<rect x="1160" y="544" width="1" height="33" fill="#26a69a"/>
<rect x="1158" y="562" width="5" height="15" fill="#26a69a"/>
<rect x="1166" y="558" width="1" height="43" fill="#ef5350"/>
<rect x="1164" y="562" width="5" height="39" fill="#ef5350"/>
<rect x="1172" y="586" width="1" height="38" fill="#ef5350"/>
<rect x="1170" y="595" width="5" height="20" fill="#ef5350"/>
<rect x="1178" y="586" width="1" height="33" fill="#26a69a"/>
<rect x="1176" y="586" width="5" height="24" fill="#26a69a"/>
<rect x="1184" y="567" width="1" height="24" fill="#26a69a"/>
<rect x="1182" y="572" width="5" height="15" fill="#26a69a"/>
<rect x="1190" y="534" width="1" height="39" fill="#26a69a"/>
<rect x="1188" y="534" width="5" height="34" fill="#26a69a"/>
<rect x="1196" y="525" width="1" height="10" fill="#26a69a"/>
<rect x="1194" y="530" width="5" height="1" fill="#26a69a"/>
<rect x="1202" y="459" width="1" height="67" fill="#26a69a"/>
<rect x="1200" y="459" width="5" height="67" fill="#26a69a"/>
<rect x="1208" y="450" width="1" height="38" fill="#26a69a"/>
<rect x="1206" y="459" width="5" height="6" fill="#26a69a"/>
<rect x="1214" y="408" width="1" height="52" fill="#26a69a"/>
<rect x="1212" y="422" width="5" height="34" fill="#26a69a"/>
<rect x="1220" y="408" width="1" height="48" fill="#ef5350"/>
<rect x="1218" y="422" width="5" height="24" fill="#ef5350"/>
<rect x="1226" y="417" width="1" height="39" fill="#26a69a"/>
<rect x="1224" y="436" width="5" height="6" fill="#26a69a"/>
<rect x="1232" y="436" width="1" height="38" fill="#26a69a"/>
<rect x="1230" y="436" width="5" height="1" fill="#26a69a"/>
<rect x="1238" y="436" width="1" height="29" fill="#ef5350"/>
<rect x="1236" y="441" width="5" height="19" fill="#ef5350"/>
<rect x="1244" y="450" width="1" height="38" fill="#ef5350"/>
<rect x="1242" y="459" width="5" height="29" fill="#ef5350"/>
<rect x="1250" y="197" width="1" height="348" fill="#26a69a"/>
<rect x="1248" y="403" width="5" height="90" fill="#26a69a"/>
<rect x="1256" y="380" width="1" height="29" fill="#26a69a"/>
<rect x="1254" y="394" width="5" height="5" fill="#26a69a"/>
<rect x="1262" y="352" width="1" height="38" fill="#26a69a"/>
<rect x="1260" y="361" width="5" height="29" fill="#26a69a"/>
<rect x="1268" y="347" width="1" height="20" fill="#26a69a"/>
<rect x="1266" y="352" width="5" height="5" fill="#26a69a"/>
<rect x="1274" y="356" width="1" height="53" fill="#ef5350"/>
<rect x="1272" y="356" width="5" height="53" fill="#ef5350"/>
<rect x="1280" y="394" width="1" height="38" fill="#26a69a"/>
<rect x="1278" y="394" width="5" height="10" fill="#26a69a"/>
<rect x="1286" y="366" width="1" height="33" fill="#26a69a"/>
<rect x="1284" y="370" width="5" height="29" fill="#26a69a"/>
<rect x="1292" y="356" width="1" height="25" fill="#26a69a"/>
<rect x="1290" y="356" width="5" height="11" fill="#26a69a"/>
<rect x="1298" y="324" width="1" height="52" fill="#26a69a"/>
<rect x="1296" y="338" width="5" height="19" fill="#26a69a"/>
<rect x="1304" y="300" width="1" height="39" fill="#26a69a"/>
<rect x="1302" y="305" width="5" height="29" fill="#26a69a"/>
<rect x="1310" y="305" width="1" height="29" fill="#ef5350"/>
<rect x="1308" y="310" width="5" height="19" fill="#ef5350"/>
<rect x="1316" y="314" width="1" height="29" fill="#ef5350"/>
<rect x="1314" y="328" width="5" height="15" fill="#ef5350"/>
<rect x="1322" y="324" width="1" height="19" fill="#26a69a"/>
<rect x="1320" y="338" width="5" height="5" fill="#26a69a"/>
<rect x="1328" y="338" width="1" height="19" fill="#ef5350"/>
<rect x="1326" y="338" width="5" height="15" fill="#ef5350"/>
<rect x="1334" y="342" width="1" height="15" fill="#26a69a"/>
<rect x="1332" y="342" width="5" height="15" fill="#26a69a"/>
<rect x="1340" y="338" width="1" height="19" fill="#ef5350"/>
<rect x="1338" y="338" width="5" height="10" fill="#ef5350"/>
<rect x="1346" y="347" width="1" height="15" fill="#ef5350"/>
<rect x="1344" y="347" width="5" height="10" fill="#ef5350"/>
<rect x="1352" y="342" width="1" height="25" fill="#ef5350"/>
<rect x="1350" y="356" width="5" height="6" fill="#ef5350"/>
<rect x="1358" y="342" width="1" height="25" fill="#26a69a"/>
<rect x="1356" y="342" width="5" height="20" fill="#26a69a"/>
<rect x="1364" y="286" width="1" height="62" fill="#26a69a"/>
<rect x="1362" y="286" width="5" height="62" fill="#26a69a"/>
<rect x="1370" y="286" width="1" height="11" fill="#ef5350"/>
<rect x="1368" y="286" width="5" height="6" fill="#ef5350"/>
<rect x="1376" y="291" width="1" height="24" fill="#ef5350"/>
<rect x="1374" y="296" width="5" height="15" fill="#ef5350"/>
<rect x="1382" y="300" width="1" height="20" fill="#26a69a"/>
<rect x="1380" y="305" width="5" height="6" fill="#26a69a"/>
<rect x="1388" y="249" width="1" height="62" fill="#26a69a"/>
<rect x="1386" y="249" width="5" height="52" fill="#26a69a"/>
<rect x="1394" y="235" width="1" height="24" fill="#26a69a"/>
<rect x="1392" y="253" width="5" height="1" fill="#26a69a"/>
<rect x="1400" y="253" width="1" height="44" fill="#ef5350"/>
<rect x="1398" y="253" width="5" height="39" fill="#ef5350"/>
<rect x="1406" y="230" width="1" height="67" fill="#26a69a"/>
<rect x="1404" y="230" width="5" height="67" fill="#26a69a"/>
<rect x="1412" y="211" width="1" height="25" fill="#ef5350"/>
<rect x="1410" y="230" width="5" height="6" fill="#ef5350"/>
<rect x="1418" y="225" width="1" height="15" fill="#26a69a"/>
<rect x="1416" y="225" width="5" height="15" fill="#26a69a"/>
<rect x="1424" y="211" width="1" height="20" fill="#26a69a"/>
<rect x="1422" y="216" width="5" height="10" fill="#26a69a"/>
<rect x="1430" y="216" width="1" height="15" fill="#ef5350"/>
<rect x="1428" y="216" width="5" height="10" fill="#ef5350"/>
<rect x="1436" y="211" width="1" height="25" fill="#ef5350"/>
<rect x="1434" y="221" width="5" height="15" fill="#ef5350"/>
<rect x="1442" y="225" width="1" height="76" fill="#ef5350"/>
<rect x="1440" y="230" width="5" height="71" fill="#ef5350"/>
<rect x="1448" y="249" width="1" height="66" fill="#26a69a"/>
<rect x="1446" y="258" width="5" height="43" fill="#26a69a"/>
<rect x="1454" y="253" width="1" height="20" fill="#26a69a"/>
<rect x="1452" y="258" width="5" height="1" fill="#26a69a"/>
<rect x="1460" y="202" width="1" height="52" fill="#26a69a"/>
<rect x="1458" y="207" width="5" height="47" fill="#26a69a"/>
<rect x="1466" y="202" width="1" height="29" fill="#ef5350"/>
<rect x="1464" y="207" width="5" height="5" fill="#ef5350"/>
<rect x="1472" y="211" width="1" height="29" fill="#ef5350"/>
<rect x="1470" y="216" width="5" height="20" fill="#ef5350"/>
<rect x="1478" y="225" width="1" height="15" fill="#26a69a"/>
<rect x="1476" y="230" width="5" height="6" fill="#26a69a"/>
<rect x="1484" y="221" width="1" height="10" fill="#26a69a"/>
<rect x="1482" y="225" width="5" height="6" fill="#26a69a"/>
<rect x="1490" y="221" width="1" height="99" fill="#ef5350"/>
<rect x="1488" y="221" width="5" height="57" fill="#ef5350"/>
<rect x="1496" y="239" width="1" height="44" fill="#26a69a"/>
<rect x="1494" y="244" width="5" height="34" fill="#26a69a"/>
<rect x="1502" y="239" width="1" height="20" fill="#ef5350"/>
<rect x="1500" y="244" width="5" height="6" fill="#ef5350"/>
<rect x="1508" y="225" width="1" height="39" fill="#26a69a"/>
<rect x="1506" y="239" width="5" height="6" fill="#26a69a"/>
<rect x="1514" y="230" width="1" height="10" fill="#26a69a"/>
<rect x="1512" y="230" width="5" height="6" fill="#26a69a"/>
<rect x="1520" y="230" width="1" height="15" fill="#ef5350"/>
<rect x="1518" y="230" width="5" height="10" fill="#ef5350"/>
<rect x="1526" y="239" width="1" height="58" fill="#ef5350"/>
<rect x="1524" y="244" width="5" height="53" fill="#ef5350"/>
<rect x="1532" y="239" width="1" height="53" fill="#26a69a"/>
<rect x="1530" y="272" width="5" height="20" fill="#26a69a"/>
<rect x="1538" y="263" width="1" height="15" fill="#ef5350"/>
<rect x="1536" y="267" width="5" height="6" fill="#ef5350"/>
<path d="M136 272.5H1601" stroke="#ef5350" stroke-width="1" stroke-dasharray="1 2" fill="none"/>
</g></svg>
<div id="p0" class="pl" style="transform:scaleX(0.9416);transform-origin:0 0;left:1529.800px;top:69.0px;line-height:14px;font-size:12.500px">0.7070</div>
<div class="abs" style="left:1522px;top:75px;width:4px;height:1px;background:#2a2e39"></div>
<div id="p1" class="pl" style="transform:scaleX(0.9416);transform-origin:0 0;left:1529.800px;top:116.0px;line-height:14px;font-size:12.500px">0.7060</div>
<div class="abs" style="left:1522px;top:122px;width:4px;height:1px;background:#2a2e39"></div>
<div id="p2" class="pl" style="transform:scaleX(0.9416);transform-origin:0 0;left:1529.800px;top:163.0px;line-height:14px;font-size:12.500px">0.7050</div>
<div class="abs" style="left:1522px;top:169px;width:4px;height:1px;background:#2a2e39"></div>
<div id="p3" class="pl" style="transform:scaleX(0.9416);transform-origin:0 0;left:1529.800px;top:210.0px;line-height:14px;font-size:12.500px">0.7040</div>
<div class="abs" style="left:1522px;top:216px;width:4px;height:1px;background:#2a2e39"></div>
<div id="p4" class="pl" style="transform:scaleX(0.9416);transform-origin:0 0;left:1529.800px;top:256.0px;line-height:14px;font-size:12.500px">0.7030</div>
<div class="abs" style="left:1522px;top:262px;width:4px;height:1px;background:#2a2e39"></div>
<div id="p5" class="pl" style="transform:scaleX(0.9416);transform-origin:0 0;left:1529.800px;top:303.0px;line-height:14px;font-size:12.500px">0.7020</div>
<div class="abs" style="left:1522px;top:309px;width:4px;height:1px;background:#2a2e39"></div>
<div id="p6" class="pl" style="transform:scaleX(0.9416);transform-origin:0 0;left:1529.800px;top:350.0px;line-height:14px;font-size:12.500px">0.7010</div>
<div class="abs" style="left:1522px;top:356px;width:4px;height:1px;background:#2a2e39"></div>
<div id="p7" class="pl" style="transform:scaleX(0.9416);transform-origin:0 0;left:1529.800px;top:397.0px;line-height:14px;font-size:12.500px">0.7000</div>
<div class="abs" style="left:1522px;top:403px;width:4px;height:1px;background:#2a2e39"></div>
<div id="p8" class="pl" style="transform:scaleX(0.9416);transform-origin:0 0;left:1529.800px;top:444.0px;line-height:14px;font-size:12.500px">0.6990</div>
<div class="abs" style="left:1522px;top:450px;width:4px;height:1px;background:#2a2e39"></div>
<div id="p9" class="pl" style="transform:scaleX(0.9416);transform-origin:0 0;left:1529.800px;top:490.0px;line-height:14px;font-size:12.500px">0.6980</div>
<div class="abs" style="left:1522px;top:496px;width:4px;height:1px;background:#2a2e39"></div>
<div id="p10" class="pl" style="transform:scaleX(0.9416);transform-origin:0 0;left:1529.800px;top:537.0px;line-height:14px;font-size:12.500px">0.6970</div>
<div class="abs" style="left:1522px;top:543px;width:4px;height:1px;background:#2a2e39"></div>
<div id="p11" class="pl" style="transform:scaleX(0.9416);transform-origin:0 0;left:1529.800px;top:584.0px;line-height:14px;font-size:12.500px">0.6960</div>
<div class="abs" style="left:1522px;top:590px;width:4px;height:1px;background:#2a2e39"></div>
<div id="p12" class="pl" style="transform:scaleX(0.9416);transform-origin:0 0;left:1529.800px;top:631.0px;line-height:14px;font-size:12.500px">0.6950</div>
<div class="abs" style="left:1522px;top:637px;width:4px;height:1px;background:#2a2e39"></div>
<div id="p13" class="pl" style="transform:scaleX(0.9416);transform-origin:0 0;left:1529.800px;top:677.0px;line-height:14px;font-size:12.500px">0.6940</div>
<div class="abs" style="left:1522px;top:683px;width:4px;height:1px;background:#2a2e39"></div>
<div id="p14" class="pl" style="transform:scaleX(0.9416);transform-origin:0 0;left:1529.800px;top:724.0px;line-height:14px;font-size:12.500px">0.6930</div>
<div class="abs" style="left:1522px;top:730px;width:4px;height:1px;background:#2a2e39"></div>
<div id="p15" class="pl" style="transform:scaleX(0.9416);transform-origin:0 0;left:1529.800px;top:771.0px;line-height:14px;font-size:12.500px">0.6920</div>
<div class="abs" style="left:1522px;top:777px;width:4px;height:1px;background:#2a2e39"></div>
<div class="tl" style="left:57.5px;width:auto;text-align:left">:15</div>
<div class="abs" style="left:60px;top:823px;width:1px;height:3px;background:#2a2e39"></div>
<div class="tl" style="left:120.5px">21:30</div>
<div class="abs" style="left:150px;top:823px;width:1px;height:3px;background:#2a2e39"></div>
<div class="tl" style="left:210.5px">21:45</div>
<div class="abs" style="left:240px;top:823px;width:1px;height:3px;background:#2a2e39"></div>
<div class="tl" style="left:300.5px">22:00</div>
<div class="abs" style="left:330px;top:823px;width:1px;height:3px;background:#2a2e39"></div>
<div class="tl" style="left:390.5px">22:15</div>
<div class="abs" style="left:420px;top:823px;width:1px;height:3px;background:#2a2e39"></div>
<div class="tl" style="left:480.5px">22:30</div>
<div class="abs" style="left:510px;top:823px;width:1px;height:3px;background:#2a2e39"></div>
<div class="tl" style="left:570.5px">22:45</div>
<div class="abs" style="left:600px;top:823px;width:1px;height:3px;background:#2a2e39"></div>
<div class="tl" style="left:660.5px">23:00</div>
<div class="abs" style="left:690px;top:823px;width:1px;height:3px;background:#2a2e39"></div>
<div class="tl" style="left:750.5px">23:15</div>
<div class="abs" style="left:780px;top:823px;width:1px;height:3px;background:#2a2e39"></div>
<div class="tl" style="left:840.5px">23:30</div>
<div class="abs" style="left:870px;top:823px;width:1px;height:3px;background:#2a2e39"></div>
<div class="tl" style="left:930.5px">23:45</div>
<div class="abs" style="left:960px;top:823px;width:1px;height:3px;background:#2a2e39"></div>
<div class="tl" style="left:1020.5px">13</div>
<div class="abs" style="left:1050px;top:823px;width:1px;height:3px;background:#2a2e39"></div>
<div class="tl" style="left:1110.5px">00:15</div>
<div class="abs" style="left:1140px;top:823px;width:1px;height:3px;background:#2a2e39"></div>
<div class="tl" style="left:1200.5px">00:30</div>
<div class="abs" style="left:1230px;top:823px;width:1px;height:3px;background:#2a2e39"></div>
<div class="tl" style="left:1290.5px">00:45</div>
<div class="abs" style="left:1320px;top:823px;width:1px;height:3px;background:#2a2e39"></div>
<div class="tl" style="left:1380.5px">01:00</div>
<div class="abs" style="left:1410px;top:823px;width:1px;height:3px;background:#2a2e39"></div>
<div class="tl" style="left:1470.5px">01:15</div>
<div class="abs" style="left:1500px;top:823px;width:1px;height:3px;background:#2a2e39"></div>
<div id="t_leg" class="abs" style="transform:scaleX(0.9497);transform-origin:0 0;left:65.200px;top:47.400px;font-size:14.500px;line-height:17px;color:#c5c8d0;white-space:nowrap;letter-spacing:.1px">XRP/USD <span style="color:#6a6d78">·</span> 1 <span style="color:#6a6d78">·</span> BINANCE</div>
<div class="abs" style="left:237px;top:47px;width:17px;height:17px;border-radius:9px;background:#15302f"></div><div class="abs" style="left:241px;top:51px;width:9px;height:9px;border-radius:5px;background:#0f9f90"></div>
<div id="o0" class="abs" style="transform:scaleX(0.9489);transform-origin:0 0;left:271.4px;top:49.800px;font-size:12.500px;line-height:14px;color:#c5c8d0;white-space:nowrap">ОТКР</div>
<div id="o1" class="abs" style="transform:scaleX(1.0017);transform-origin:0 0;left:304.8px;top:49.800px;font-size:12.500px;line-height:14px;color:#ef5350;white-space:nowrap">0.7046</div>
<div id="o2" class="abs" style="transform:scaleX(0.9077);transform-origin:0 0;left:349.3px;top:49.800px;font-size:12.500px;line-height:14px;color:#c5c8d0;white-space:nowrap">МАКС</div>
<div id="o3" class="abs" style="transform:scaleX(1.0017);transform-origin:0 0;left:383.6px;top:49.800px;font-size:12.500px;line-height:14px;color:#ef5350;white-space:nowrap">0.7047</div>
<div id="o4" class="abs" style="transform:scaleX(0.9248);transform-origin:0 0;left:428.0px;top:49.800px;font-size:12.500px;line-height:14px;color:#c5c8d0;white-space:nowrap">МИН</div>
<div id="o5" class="abs" style="transform:scaleX(1.0017);transform-origin:0 0;left:456.2px;top:49.800px;font-size:12.500px;line-height:14px;color:#ef5350;white-space:nowrap">0.7044</div>
<div id="o6" class="abs" style="transform:scaleX(0.9170);transform-origin:0 0;left:501.3px;top:49.800px;font-size:12.500px;line-height:14px;color:#c5c8d0;white-space:nowrap">ЗАКР</div>
<div id="o7" class="abs" style="transform:scaleX(1.0017);transform-origin:0 0;left:531.9px;top:49.800px;font-size:12.500px;line-height:14px;color:#ef5350;white-space:nowrap">0.7045</div>
<div id="o8" class="abs" style="transform:scaleX(0.9939);transform-origin:0 0;left:576.8px;top:49.800px;font-size:12.500px;line-height:14px;color:#ef5350;white-space:nowrap">0.0000</div>
<div id="o9" class="abs" style="transform:scaleX(0.9342);transform-origin:0 0;left:620.5px;top:49.800px;font-size:12.500px;line-height:14px;color:#ef5350;white-space:nowrap">(0.00%)</div>
<div class="abs" style="left:1521px;top:183px;width:53px;height:19px;background:#ef5350;z-index:3"></div>
<div class="abs" style="left:1521px;top:192px;width:4px;height:1px;background:#fbe9e9;z-index:4"></div>
<div id="cp1" class="abs" style="transform:scaleX(0.9363);transform-origin:0 0;left:1529.800px;top:185.500px;font-size:12.500px;font-weight:bold;line-height:14px;color:#fff;z-index:4">0.7045</div>
<div class="abs" style="left:1532px;top:203px;width:42px;height:19px;background:#ef5350;z-index:3"></div>
<div id="cp2" class="abs" style="transform:scaleX(0.9192);transform-origin:0 0;left:1535.900px;top:205.800px;font-size:12.500px;font-weight:bold;line-height:14px;color:#fff;z-index:4">00:45</div>
 <!-- collapse handle -->
 <div class="abs" style="left:46px;top:804px;width:8px;height:26px;border:1px solid #2a2e39;border-radius:4px;background:#131722;z-index:2"></div>
 <svg style="left:48px;top:812.5px;z-index:3" width="5" height="9" viewBox="0 0 5 9" class="ic"><path d="M3.6 1.2L1.3 4.500 3.6 7.800" stroke="#c0c3cb"/></svg>
 <!-- axes borders -->
 <div class="abs" style="left:1521px;top:39px;width:1px;height:812px;background:#2a2e39"></div>
 <div class="hsep" style="left:56px;top:822px;width:1519px"></div>
 <div class="hsep" style="left:56px;top:850px;width:1519px"></div>
 <!-- bottom toolbar -->
 <div class="abs grey" style="left:72px;top:863px;font-size:13.500px;line-height:16px;white-space:nowrap;word-spacing:9px;color:#80848f;transform:scaleX(1.0418);transform-origin:0 0;" id="t_rng">3м 1м 5д 1д</div>
 <div class="abs" style="left:1330px;top:862.5px;font-size:13.500px;line-height:16px;white-space:nowrap;color:#80848f" id="t_clock">01:08:14 (UTC+3)</div>
 <div class="abs" style="left:1455px;top:859px;width:1px;height:22px;background:#2a2e39"></div>
 <div class="abs" style="left:1472px;top:861.5px;font-size:15.5px;line-height:18px;color:#80848f" id="t_pct">%</div>
 <div class="abs" style="left:1500px;top:862.5px;font-size:13.500px;line-height:16px;color:#80848f" id="t_log">лог</div>
 <div class="abs" style="left:1536px;top:863px;font-size:13.500px;line-height:16px;color:#2e86e6" id="t_auto">авто</div>
 <svg style="left:1539px;top:828px" width="18" height="18" viewBox="0 0 18 18" class="ic"><circle cx="9.300" cy="9.500" r="4.500" stroke="#9a9ea9"/><path d="M9.300 2v3M9.300 14v3M1.800 9.500h3M13.800 9.500h3M4 4.200l2.100 2.100M12.500 12.700l2.100 2.100M4 14.800l2.100-2.100M12.500 6.300l2.100-2.100" stroke="#9a9ea9"/></svg>
 <!-- cloud logo circle -->
 <div class="abs" style="left:64px;top:783.2px;width:31.6px;height:31.6px;border-radius:16px;background:#2f323f"></div>
 <svg style="left:69px;top:791px" width="22" height="14" viewBox="0 0 22 14"><path d="M3 14C1 14-.2 12.500-.2 10.500-.2 8 1 6 3 5.500 3.500 3.500 5 1 8.800.8 11 .8 12.500 1.800 13.300 3 14.500 2.800 17 3.500 18.500 5.500 20.500 6.500 21.300 8.500 21.300 10.500 21.300 12.500 20 14 18 14z" fill="#38a9f0"/><path d="M.4 11.200L7.500 5.700 13.100 10.900 18 5.600" fill="none" stroke="#2f323f" stroke-width="1.300"/><circle cx="7.500" cy="5.700" r="1.100" fill="#2f323f"/><circle cx="13.100" cy="10.900" r="1.100" fill="#2f323f"/></svg>
</div>
</body>
</html>
